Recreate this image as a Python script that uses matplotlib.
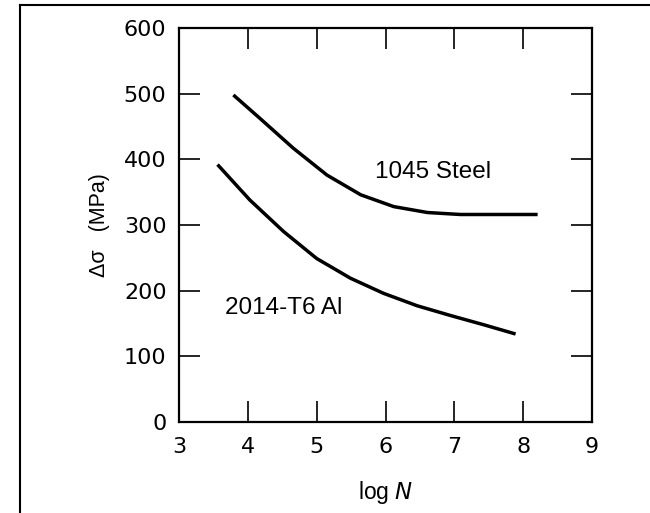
import matplotlib.pyplot as plt
from matplotlib.lines import Line2D

plt.rcParams['font.family'] = ['Liberation Sans', 'DejaVu Sans']

# curves (log N, stress range in MPa)
steel_logn = [3.79, 4.18, 4.66, 5.15, 5.64, 6.12, 6.61, 7.09, 7.6, 8.21]
steel_ds = [498, 462, 417, 376, 346, 328, 319, 316, 316, 316]

al_logn = [3.56, 4.03, 4.52, 5.0, 5.49, 5.97, 6.46, 6.95, 7.43, 7.89]
al_ds = [392, 338, 290, 249, 219, 196, 177, 162, 148, 134]

xticks = [3, 4, 5, 6, 7, 8, 9]
yticks = [0, 100, 200, 300, 400, 500, 600]

fig = plt.figure(figsize=(6.5, 5.13), dpi=100)
ax = fig.add_axes([179 / 650, 1 - 422 / 513, 413 / 650, 394 / 513])

ax.plot(steel_logn, steel_ds, color='black', lw=2.5, solid_capstyle='butt')
ax.plot(al_logn, al_ds, color='black', lw=2.5, solid_capstyle='butt')

ax.text(5.85, 380, '1045 Steel', fontsize=17.5, va='center', ha='left')
ax.text(3.67, 174, '2014-T6 Al', fontsize=17.5, va='center', ha='left')

ax.set_xlim(3, 9)
ax.set_ylim(0, 600)
ax.set_xticks(xticks)
ax.set_yticks(yticks)
ax.tick_params(direction='in', length=15, width=1.2, labelsize=16,
               top=True, right=True, pad=9)
ax.set_yticklabels([str(y) for y in yticks], family='DejaVu Sans')
ax.set_xticklabels([])
for x in xticks:
    ax.text(x, -38, str(x), fontsize=16, ha='center', va='center',
            family='DejaVu Sans')
for sp in ax.spines.values():
    sp.set_linewidth(1.6)

ax.set_xlabel(r'log $\mathit{N}$', fontsize=16.5, labelpad=32)
ax.set_ylabel('Δσ   (MPa)', fontsize=15.5, labelpad=10)

# frame around the figure (only left and top edges visible)
fig.add_artist(Line2D([20 / 650, 20 / 650], [0, 1 - 5 / 513], color='black', lw=1.5,
                      transform=fig.transFigure))
fig.add_artist(Line2D([20 / 650, 1], [1 - 5 / 513, 1 - 5 / 513], color='black', lw=1.5,
                      transform=fig.transFigure))

fig.savefig('out.png', dpi=100)
